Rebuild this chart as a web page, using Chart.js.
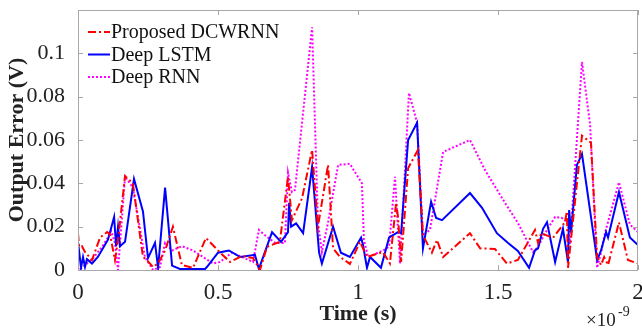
<!DOCTYPE html>
<html>
<head>
<meta charset="utf-8">
<script src="https://cdn.jsdelivr.net/npm/chart.js@4/dist/chart.umd.min.js"></script>
<style>
  html, body { margin: 0; padding: 0; background: #fff; }
  #wrap { width: 642px; height: 328px; position: relative; }
</style>
</head>
<body>
<div id="wrap"><canvas id="errChart"></canvas></div>
<script>
// values, time in units of 1e-9 s
const seriesNames = ['Proposed DCWRNN', 'Deep LSTM', 'Deep RNN'];

const timeDCWRNN = [0, 0.004, 0.014, 0.025, 0.05, 0.079, 0.104, 0.114, 0.132, 0.143, 0.168, 0.196, 0.232, 0.246, 0.268, 0.286, 0.311, 0.339, 0.371, 0.411, 0.457, 0.5, 0.543, 0.586, 0.625, 0.65, 0.675, 0.721, 0.75, 0.764, 0.8, 0.836, 0.857, 0.893, 0.911, 0.936, 0.971, 1.007, 1.032, 1.089, 1.114, 1.136, 1.143, 1.154, 1.179, 1.214, 1.232, 1.264, 1.282, 1.304, 1.4, 1.436, 1.489, 1.532, 1.571, 1.632, 1.643, 1.654, 1.696, 1.739, 1.746, 1.75, 1.8, 1.832, 1.854, 1.868, 1.879, 1.893, 1.932, 1.964, 2.0];
const errDCWRNN = [0.017, 0.0107, 0.011, 0.0083, 0.0046, 0.015, 0.0175, 0.0166, 0.0046, 0.0139, 0.0434, 0.040, 0.006, 0.0046, 0.0014, 0.003, 0.009, 0.020, 0.0023, 0.001, 0.0148, 0.009, 0.0037, 0.0065, 0.0055, 0, 0.0107, 0.013, 0.043, 0.023, 0.033, 0.0554, 0.020, 0.0485, 0.010, 0.006, 0.0028, 0.013, 0.006, 0.0083, 0.003, 0.031, 0.0245, 0.0037, 0.047, 0.0554, 0.016, 0.008, 0.0139, 0.006, 0.017, 0.010, 0.0097, 0.003, 0.0046, 0.0185, 0.0125, 0.017, 0.0148, 0.022, 0.027, 0.001, 0.062, 0.0587, 0.006, 0.0023, 0.006, 0.0023, 0.022, 0.0046, 0.003];

const timeLSTM = [0, 0.0036, 0.0107, 0.0179, 0.025, 0.032, 0.05, 0.071, 0.107, 0.129, 0.136, 0.143, 0.15, 0.168, 0.2, 0.232, 0.25, 0.275, 0.286, 0.311, 0.336, 0.364, 0.454, 0.461, 0.5, 0.539, 0.579, 0.632, 0.646, 0.693, 0.725, 0.75, 0.754, 0.761, 0.779, 0.804, 0.836, 0.861, 0.871, 0.911, 0.939, 0.971, 1.011, 1.018, 1.032, 1.043, 1.082, 1.111, 1.143, 1.154, 1.179, 1.211, 1.232, 1.261, 1.279, 1.3, 1.4, 1.443, 1.496, 1.536, 1.571, 1.611, 1.632, 1.643, 1.661, 1.675, 1.704, 1.732, 1.75, 1.754, 1.761, 1.782, 1.8, 1.854, 1.868, 1.886, 1.893, 1.932, 1.971, 2.0];
const errLSTM = [0.005, 0.009, 0.001, 0.006, 0.0014, 0.005, 0.003, 0.006, 0.014, 0.0245, 0.011, 0.020, 0.011, 0.013, 0.042, 0.027, 0.0055, 0.0125, 0.001, 0.038, 0.002, 0.0005, 0.0005, 0.0015, 0.008, 0.009, 0.006, 0.007, 0.0005, 0.0175, 0.013, 0.0175, 0.031, 0.020, 0.0215, 0.017, 0.0475, 0.008, 0.003, 0.020, 0.008, 0.006, 0.015, 0.0115, 0.001, 0.006, 0.001, 0.015, 0.0175, 0.017, 0.060, 0.068, 0.010, 0.0315, 0.024, 0.023, 0.0355, 0.0287, 0.017, 0.0125, 0.0088, 0.001, 0.009, 0.010, 0.019, 0.022, 0.0037, 0.019, 0.0037, 0.0277, 0.0175, 0.0485, 0.0535, 0.0046, 0.009, 0.0175, 0.015, 0.036, 0.015, 0.0115];

const timeRNN = [0, 0.004, 0.018, 0.054, 0.086, 0.107, 0.118, 0.132, 0.143, 0.168, 0.196, 0.239, 0.268, 0.293, 0.311, 0.336, 0.371, 0.411, 0.482, 0.507, 0.55, 0.586, 0.625, 0.646, 0.668, 0.704, 0.739, 0.75, 0.764, 0.775, 0.836, 0.857, 0.871, 0.893, 0.929, 0.971, 1.014, 1.021, 1.036, 1.089, 1.111, 1.132, 1.15, 1.182, 1.211, 1.232, 1.257, 1.304, 1.4, 1.454, 1.525, 1.571, 1.625, 1.643, 1.668, 1.704, 1.729, 1.75, 1.757, 1.8, 1.829, 1.854, 1.868, 1.882, 1.932, 1.971, 2.0];
const errRNN = [0.001, 0, 0.0014, 0.0055, 0.0107, 0.015, 0.018, 0.0125, 0, 0.043, 0.038, 0.006, 0, 0.0014, 0.0125, 0.009, 0.011, 0.009, 0.003, 0.0037, 0.008, 0.006, 0.0037, 0.0185, 0.016, 0.0125, 0.0125, 0.045, 0.036, 0.037, 0.112, 0.022, 0.0083, 0.022, 0.0485, 0.049, 0.040, 0.014, 0.006, 0.009, 0.0107, 0.043, 0.003, 0.0817, 0.068, 0.016, 0.0185, 0.0545, 0.060, 0.046, 0.031, 0.0217, 0.0083, 0.0107, 0.017, 0.0245, 0.024, 0.0217, 0.012, 0.096, 0.067, 0.001, 0.008, 0.017, 0.0405, 0.021, 0.0175];

const xTickLabels = ['0', '0.5', '1', '1.5', '2'];
const yTickLabels = ['0', '0.02', '0.04', '0.06', '0.08', '0.1', ''];

function toPoints(xs, ys) {
    return xs.map((x, i) => ({ x: x, y: ys[i] }));
}

const serif = '"Liberation Serif", "Times New Roman", serif';
const boxColor = '#a8a8a8';

// MATLAB style box, inward ticks, legend and exponent label
const matlabAxes = {
    id: 'matlabAxes',
    afterDraw(chart) {
        const ctx = chart.ctx;
        const a = chart.chartArea;
        const xs = chart.scales.x;
        const ys = chart.scales.y;
        ctx.save();
        ctx.strokeStyle = boxColor;
        ctx.lineWidth = 1;
        ctx.strokeRect(a.left + 0.5, a.top + 0.5, a.right - a.left - 1, a.bottom - a.top);
        ctx.beginPath();
        xs.ticks.forEach(t => {
            const px = Math.round(xs.getPixelForValue(t.value)) + 0.5;
            ctx.moveTo(px, a.bottom); ctx.lineTo(px, a.bottom - 5);
            ctx.moveTo(px, a.top); ctx.lineTo(px, a.top + 5);
        });
        ys.ticks.forEach(t => {
            const py = Math.round(ys.getPixelForValue(t.value)) + 0.5;
            ctx.moveTo(a.left, py); ctx.lineTo(a.left + 5, py);
            ctx.moveTo(a.right, py); ctx.lineTo(a.right - 5, py);
        });
        ctx.stroke();

        // legend inside top-left
        ctx.font = '20px ' + serif;
        ctx.textBaseline = 'middle';
        ctx.textAlign = 'left';
        chart.data.datasets.forEach((ds, i) => {
            const yy = 32 + i * 22.5;
            ctx.beginPath();
            ctx.strokeStyle = ds.borderColor;
            ctx.lineWidth = 2;
            ctx.setLineDash(ds.borderDash || []);
            ctx.moveTo(88, yy); ctx.lineTo(110, yy);
            ctx.stroke();
            ctx.setLineDash([]);
            ctx.fillStyle = '#111';
            ctx.fillText(ds.label, 111, yy + 1);
        });

        // x10^-9 exponent
        ctx.fillStyle = '#222';
        ctx.font = '19px ' + serif;
        ctx.textBaseline = 'alphabetic';
        ctx.fillText('\u00d710', 586, 326);
        ctx.font = '14px ' + serif;
        ctx.fillText('-9', 618, 316);
        ctx.restore();
    }
};

new Chart(document.getElementById('errChart'), {
    type: 'scatter',
    data: {
        datasets: [
            {
                label: seriesNames[0],
                data: toPoints(timeDCWRNN, errDCWRNN),
                borderColor: '#ff0000',
                borderDash: [8, 3, 2, 3],
                order: 1
            },
            {
                label: seriesNames[1],
                data: toPoints(timeLSTM, errLSTM),
                borderColor: '#0000ff',
                order: 2
            },
            {
                label: seriesNames[2],
                data: toPoints(timeRNN, errRNN),
                borderColor: '#ff00ff',
                borderDash: [2, 2],
                order: 3
            }
        ]
    },
    options: {
        responsive: true,
        maintainAspectRatio: false,
        animation: false,
        datasets: {
            scatter: {
                showLine: true,
                pointRadius: 0,
                borderWidth: 2,
                fill: false,
                tension: 0
            }
        },
        layout: { padding: { top: 10, right: 4, left: 0, bottom: 0 } },
        plugins: {
            legend: { display: false },
            tooltip: { enabled: false }
        },
        scales: {
            x: {
                type: 'linear',
                min: 0,
                max: 2,
                border: { display: false },
                grid: { display: false },
                ticks: {
                    stepSize: 0.5,
                    color: '#222',
                    font: { family: serif, size: 23 },
                    padding: 1,
                    maxRotation: 0,
                    callback: (v, i) => xTickLabels[i]
                },
                title: {
                    display: true,
                    text: 'Time (s)',
                    color: '#222',
                    font: { family: serif, size: 22, weight: 'bold' },
                    padding: { top: 0, bottom: 0 }
                },
                afterFit: s => {
                    s.height = 58;
                    s.paddingLeft = 0;
                    s.paddingRight = 0;
                }
            },
            y: {
                min: 0,
                max: 0.12,
                border: { display: false },
                grid: { display: false },
                ticks: {
                    stepSize: 0.02,
                    color: '#222',
                    font: { family: serif, size: 22 },
                    padding: 5,
                    callback: (v, i) => yTickLabels[i]
                },
                title: {
                    display: true,
                    text: 'Output Error (V)',
                    color: '#222',
                    font: { family: serif, size: 22, weight: 'bold' },
                    padding: { top: 4, bottom: 0 }
                },
                afterFit: s => {
                    s.width = 78;
                    s.paddingTop = 0;
                    s.paddingBottom = 0;
                }
            }
        }
    },
    plugins: [matlabAxes]
});
</script>
</body>
</html>
